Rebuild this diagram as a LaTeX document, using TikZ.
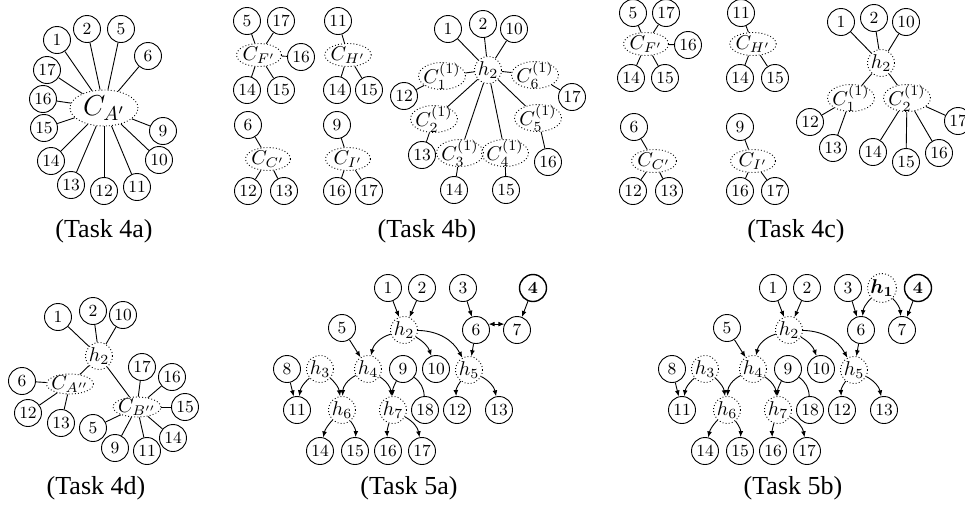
\documentclass[tikz,border=0pt]{standalone}
\usepackage{fontspec}
\newfontfamily\capfont{Liberation Serif}
\usepackage{bm}
\usetikzlibrary{shapes.geometric,arrows.meta}
\tikzset{
  dots/.style={dash pattern=on 0.45pt off 1.1pt},
  v/.style={circle, draw, line width=0.45pt, minimum size=13.5pt, inner sep=0pt, font=\fontsize{8.5}{9}\selectfont},
  hv/.style={v, dots, font=\fontsize{10}{11}\selectfont},
  cl/.style={ellipse, draw, dots, line width=0.45pt, inner xsep=-0.5pt, inner ysep=-1pt, minimum width=22.5pt, minimum height=11.5pt, font=\fontsize{10}{11}\selectfont},
  cu/.style={cl, inner xsep=-1pt, inner ysep=-2pt, minimum width=22pt, minimum height=13.5pt},
  cd/.style={cl, inner xsep=-1pt, inner ysep=-1.5pt, minimum width=21.5pt, minimum height=10pt},
  ca/.style={cl, inner sep=-1pt, minimum width=34pt, minimum height=18pt, font=\fontsize{14}{16}\selectfont},
  captxt/.style={font=\capfont\fontsize{13}{15}\selectfont, inner sep=0pt},
  ar/.style={-{Latex[length=3pt,width=2.4pt]}},
  boldfour/.style={line width=0.7pt},
}
\newcommand\fivegraph[1]{%
  \node[v] (#1-1) at (388,288) {1};
  \node[v] (#1-2) at (422,288) {2};
  \node[v] (#1-3) at (463,288) {3};
  \node[v,boldfour] (#1-4) at (533,288) {\textbf{4}};
  \node[hv] (#1-h2) at (404,330) {$h_2$};
  \node[v] (#1-6) at (476,330) {6};
  \node[v] (#1-7) at (517,330) {7};
  \node[v] (#1-5) at (342,328) {5};
  \node[hv] (#1-h4) at (368,369) {$h_4$};
  \node[v] (#1-9) at (403,369) {9};
  \node[v] (#1-10) at (436,369) {10};
  \node[hv] (#1-h5) at (469,370) {$h_5$};
  \node[v] (#1-8) at (287,369) {8};
  \node[hv] (#1-h3) at (320,369) {$h_3$};
  \node[v] (#1-11) at (297,410) {11};
  \node[hv] (#1-h6) at (342,410) {$h_6$};
  \node[hv] (#1-h7) at (393,410) {$h_7$};
  \node[v] (#1-18) at (425,410) {18};
  \node[v] (#1-12) at (457,410) {12};
  \node[v] (#1-13) at (499,410) {13};
  \node[v] (#1-14) at (320,451) {14};
  \node[v] (#1-15) at (355,451) {15};
  \node[v] (#1-16) at (388,451) {16};
  \node[v] (#1-17) at (422,451) {17};
  \draw[ar] (#1-1) -- (#1-h2);
  \draw[ar] (#1-2) -- (#1-h2);
  \draw[ar] (#1-3) -- (#1-6);
  \draw[ar] (#1-4) -- (#1-7);
  \draw[ar] (#1-h2) to[bend right=30] (#1-h4);
  \draw[ar] (#1-h2) to[bend left=20] (#1-10);
  \draw[ar] (#1-h2) to[bend left=30] (#1-h5);
  \draw[ar] (#1-5) -- (#1-h4);
  \draw[ar] (#1-6) -- (#1-h5);
  \draw[ar] (#1-8) -- (#1-11);
  \draw[ar] (#1-h3) to[bend right=20] (#1-11);
  \draw[ar] (#1-h3) to[bend left=20] (#1-h6);
  \draw[ar] (#1-h4) to[bend right=30] (#1-h6);
  \draw[ar] (#1-h4) to[bend left=25] (#1-h7);
  \draw[ar] (#1-9) to[bend right=15] (#1-h7);
  \draw (#1-9) to[bend left=25] (#1-18);
  \draw[ar] (#1-h5) to[bend right=20] (#1-12);
  \draw[ar] (#1-h5) to[bend left=25] (#1-13);
  \draw[ar] (#1-h6) to[bend right=15] (#1-14);
  \draw[ar] (#1-h6) to[bend left=20] (#1-15);
  \draw[ar] (#1-h7) to[bend right=10] (#1-16);
  \draw[ar] (#1-h7) to[bend left=25] (#1-17);
}
\begin{document}
\begin{tikzpicture}[x=0.5pt,y=-0.5pt,line width=0.45pt]
\useasboundingbox (0,0) rectangle (965,505);
% ---------- Task 4a
\node[ca] (a0) at (104,108) {$C_{A'}$};
\node[v] (a1) at (57,40) {1};
\node[v] (a2) at (87,29) {2};
\node[v] (a5) at (121,29) {5};
\node[v] (a6) at (148,56) {6};
\node[v] (a17) at (47,70) {17};
\node[v] (a16) at (43,99) {16};
\node[v] (a15) at (44,128) {15};
\node[v] (a14) at (51,161) {14};
\node[v] (a13) at (71,185) {13};
\node[v] (a12) at (104,191) {12};
\node[v] (a11) at (137,187) {11};
\node[v] (a10) at (159,160) {10};
\node[v] (a9) at (163,131) {9};
\foreach \n in {1,2,5,6,17,16,15,14,13,12,11,10,9} \draw (a0) -- (a\n);
\node[captxt] (capa) at (104,231) {(Task 4a)};
% ---------- Task 4b
\node[cl] (bF) at (259,55) {$C_{F'}$};
\node[v] (bF5) at (247,21) {5};
\node[v] (bF17) at (281,21) {17};
\node[v] (bF16) at (301,57) {16};
\node[v] (bF14) at (247,90) {14};
\node[v] (bF15) at (281,90) {15};
\foreach \n in {5,17,16,14,15} \draw (bF) -- (bF\n);
\node[cl] (bH) at (348,55) {$C_{H'}$};
\node[v] (bH11) at (338,21) {11};
\node[v] (bH14) at (337,90) {14};
\node[v] (bH15) at (369,90) {15};
\foreach \n in {11,14,15} \draw (bH) -- (bH\n);
\node[cl] (bC) at (268,159) {$C_{C'}$};
\node[v] (bC6) at (248,125) {6};
\node[v] (bC12) at (248,191) {12};
\node[v] (bC13) at (284,191) {13};
\foreach \n in {6,12,13} \draw (bC) -- (bC\n);
\node[cl] (bI) at (348,159) {$C_{I'}$};
\node[v] (bI9) at (337,125) {9};
\node[v] (bI16) at (337,191) {16};
\node[v] (bI17) at (369,191) {17};
\foreach \n in {9,16,17} \draw (bI) -- (bI\n);
\node[hv] (bh) at (488,70) {$h_2$};
\node[v] (b1) at (448,29) {1};
\node[v] (b2) at (483,24) {2};
\node[v] (b10) at (514,29) {10};
\node[cu] (bc1) at (442,76) {$C^{(1)}_1$};
\node[cu] (bc6) at (535,75) {$C^{(1)}_6$};
\node[cu] (bc2) at (434,119) {$C^{(1)}_2$};
\node[cu] (bc5) at (538,118) {$C^{(1)}_5$};
\node[cu] (bc3) at (460,153) {$C^{(1)}_3$};
\node[cu] (bc4) at (505,153) {$C^{(1)}_4$};
\node[v] (b12) at (404,96) {12};
\node[v] (b17) at (572,97) {17};
\node[v] (b13) at (422,155) {13};
\node[v] (b16) at (548,162) {16};
\node[v] (b14) at (454,190) {14};
\node[v] (b15) at (506,190) {15};
\foreach \n in {b1,b2,b10,bc1,bc2,bc3,bc4,bc5,bc6} \draw (bh) -- (\n);
\draw (bc1) -- (b12);
\draw (bc2) -- (b13);
\draw (bc3) -- (b14);
\draw (bc4) -- (b15);
\draw (bc5) -- (b16);
\draw (bc6) -- (b17);
\node[captxt] (capb) at (427,231) {(Task 4b)};
% ---------- Task 4c
\node[cl] (cF) at (646,44) {$C_{F'}$};
\node[v] (cF5) at (633,13) {5};
\node[v] (cF17) at (666,13) {17};
\node[v] (cF16) at (688,45) {16};
\node[v] (cF14) at (631,78) {14};
\node[v] (cF15) at (665,78) {15};
\foreach \n in {5,17,16,14,15} \draw (cF) -- (cF\n);
\node[cl] (cH) at (753,44) {$C_{H'}$};
\node[v] (cH11) at (741,13) {11};
\node[v] (cH14) at (740,78) {14};
\node[v] (cH15) at (775,78) {15};
\foreach \n in {11,14,15} \draw (cH) -- (cH\n);
\node[cl] (cC) at (654,161) {$C_{C'}$};
\node[v] (cC6) at (634,127) {6};
\node[v] (cC12) at (633,191) {12};
\node[v] (cC13) at (669,191) {13};
\foreach \n in {6,12,13} \draw (cC) -- (cC\n);
\node[cl] (cI) at (753,161) {$C_{I'}$};
\node[v] (cI9) at (740,127) {9};
\node[v] (cI16) at (740,191) {16};
\node[v] (cI17) at (775,191) {17};
\foreach \n in {9,16,17} \draw (cI) -- (cI\n);
\node[hv] (ch) at (881,63) {$h_2$};
\node[v] (c1) at (841,22) {1};
\node[v] (c2) at (874,18) {2};
\node[v] (c10) at (906,22) {10};
\node[cu] (cc1) at (851,98) {$C^{(1)}_1$};
\node[cu] (cc2) at (907,98) {$C^{(1)}_2$};
\node[v] (c12) at (810,122) {12};
\node[v] (c13) at (833,148) {13};
\node[v] (c14) at (873,152) {14};
\node[v] (c15) at (906,162) {15};
\node[v] (c16) at (939,153) {16};
\node[v] (c17) at (958,121) {17};
\foreach \n in {c1,c2,c10,cc1,cc2} \draw (ch) -- (\n);
\draw (cc1) -- (c12);
\draw (cc1) -- (c13);
\foreach \n in {c14,c15,c16,c17} \draw (cc2) -- (\n);
\node[captxt] (capc) at (796,231) {(Task 4c)};
% ---------- Task 4d
\node[hv] (dh) at (99,356) {$h_2$};
\node[v] (d1) at (58,317) {1};
\node[v] (d2) at (93,311) {2};
\node[v] (d10) at (123,315) {10};
\node[cd] (dA) at (70,384) {$C_{A''}$};
\node[v] (d6) at (22,381) {6};
\node[v] (d12) at (28,413) {12};
\node[v] (d13) at (61,423) {13};
\node[cd] (dB) at (137,407) {$C_{B''}$};
\node[v] (d17) at (142,367) {17};
\node[v] (d16) at (172,377) {16};
\node[v] (d15) at (185,407) {15};
\node[v] (d14) at (173,438) {14};
\node[v] (d11) at (147,451) {11};
\node[v] (d9) at (115,448) {9};
\node[v] (d5) at (93,428) {5};
\foreach \n in {d1,d2,d10,dA,dB} \draw (dh) -- (\n);
\foreach \n in {d6,d12,d13} \draw (dA) -- (\n);
\foreach \n in {d17,d16,d15,d14,d11,d9,d5} \draw (dB) -- (\n);
\node[captxt] (capd) at (96,488) {(Task 4d)};
% ---------- Task 5a
\fivegraph{p}
\draw[{Latex[length=3pt,width=2.4pt]}-{Latex[length=3pt,width=2.4pt]}] (p-6.25) -- (p-7.155);
\node[captxt] (cape) at (409,488) {(Task 5a)};
% ---------- Task 5b
\begin{scope}[shift={(385,0)}]
\fivegraph{q}
\node[hv] (q-h1) at (497,288) {$\bm{h_1}$};
\draw[ar] (q-h1) to[bend right=20] (q-6);
\draw[ar] (q-h1) to[bend left=20] (q-7);
\end{scope}
\node[captxt] (capf) at (793,488) {(Task 5b)};
\end{tikzpicture}
\end{document}
